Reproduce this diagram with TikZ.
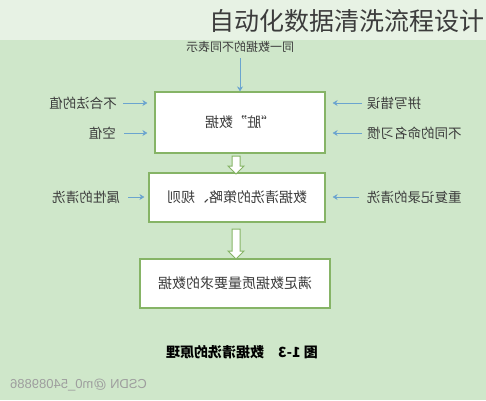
\documentclass[tikz,border=0pt]{standalone}
\usepackage{fontspec}
\usepackage{graphicx}
\usetikzlibrary{positioning,shapes.arrows,arrows.meta}
\newfontfamily\cjk{Noto Sans CJK SC}
\setsansfont{Liberation Sans}
\newcommand{\mirror}[1]{\reflectbox{#1}}
\definecolor{bandtop}{HTML}{E7F2E4}
\definecolor{bandlow}{HTML}{CFE7CA}
\definecolor{boxline}{HTML}{86B466}
\definecolor{inarrow}{HTML}{6BA4CF}
\definecolor{ink}{HTML}{3C3C3C}
\definecolor{mark}{HTML}{9E9E9E}
\tikzset{
  stage/.style={rectangle, draw=boxline, line width=1.2pt, fill=white, inner sep=0pt, font=\cjk\fontsize{14}{14}\selectfont, text=ink},
  lbl/.style={font=\cjk\fontsize{13.5}{14}\selectfont, text=ink, inner sep=0pt},
  feed/.style={draw=inarrow, line width=1pt, -{Stealth[length=5pt,width=6pt]}},
  hollow/.style={single arrow, draw=boxline, fill=white, line width=1pt, rotate=-90, inner xsep=0pt, inner ysep=3.5pt, single arrow head extend=4pt, single arrow head indent=0pt}
}
\begin{document}
\begin{tikzpicture}[x=1pt,y=-1pt]
	\useasboundingbox (0,0) rectangle (486,400);
	\fill[bandlow] (0,0) rectangle (486,400);
	\node[lbl, font=\cjk\fontsize{12}{12}\selectfont](top) at (240,47) {\mirror{同一数据的不同表示}};
	\fill[bandtop] (0,0) rectangle (486,40);
	\node[font=\cjk\fontsize{25}{25}\selectfont, text=ink, inner sep=0pt, anchor=east](title) at (485,21) {自动化数据清洗流程设计};
	% the three stages
	\node[stage, minimum width=170, minimum height=61](dirty) at (240,122.5) {\mirror{“脏”数据}};
	\node[stage, minimum width=176, minimum height=49](rules) at (237,197.5) {\mirror{数据清洗的策略、规则}};
	\node[stage, minimum width=190, minimum height=49](clean) at (235,283.5) {\mirror{满足数据质量要求的数据}};
	% inputs
	\node[lbl, anchor=east](illegal) at (117,103) {\mirror{不合法的值}};
	\node[lbl, anchor=east](empty) at (116,133) {\mirror{空值}};
	\node[lbl, anchor=west](spell) at (367,103) {\mirror{拼写错误}};
	\node[lbl, anchor=west](naming) at (367,133) {\mirror{不同的命名习惯}};
	\node[lbl, anchor=east](attr) at (120,197) {\mirror{属性的清洗}};
	\node[lbl, anchor=west](dup) at (367,197) {\mirror{重复记录的清洗}};
	\draw[feed, shorten <=5pt] (top.south -| dirty.north) -- (dirty.north);
	\draw[feed, shorten <=6pt, shorten >=7pt] (illegal.east) -- (illegal.east -| dirty.west);
	\draw[feed, shorten <=8pt, shorten >=7pt] (empty.east) -- (empty.east -| dirty.west);
	\draw[feed, shorten <=5pt, shorten >=7pt] (spell.west) -- (spell.west -| dirty.east);
	\draw[feed, shorten <=5pt, shorten >=7pt] (naming.west) -- (naming.west -| dirty.east);
	\draw[feed, shorten <=8pt, shorten >=4pt] (attr.east) -- (attr.east -| rules.west);
	\draw[feed, shorten <=8pt, shorten >=7pt] (dup.west) -- (dup.west -| rules.east);
	% hollow arrows between stages
	\node[hollow, minimum height=18](a1) at (236,163) {};
	\node[hollow, minimum height=30](a2) at (236,242) {};
	% caption and mark
	\node[lbl, font=\cjk\bfseries\fontsize{14}{14}\selectfont, text=black](cap) at (242,352) {\mirror{图 1-3\quad 数据清洗的原理}};
	\node[font=\sffamily\fontsize{13}{13}\selectfont, text=mark, inner sep=0pt, anchor=west](csdn) at (10,385) {\mirror{CSDN @m0\_54089886}};
\end{tikzpicture}
\end{document}
